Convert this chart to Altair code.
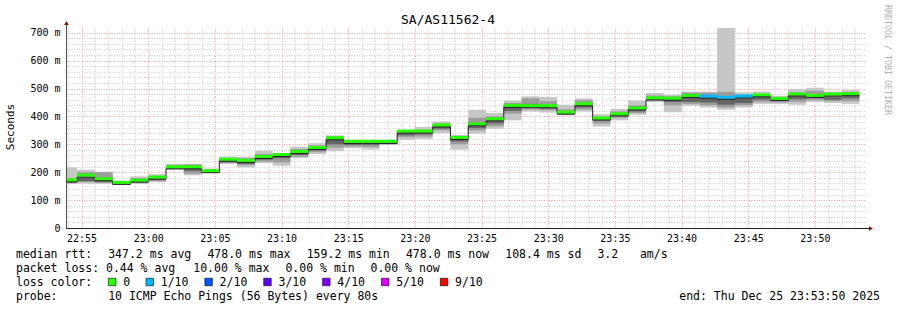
import altair as alt
import pandas as pd
import re

# ---------------- data ----------------
TITLE = "SA/AS11562-4"
RANGE_START = "22:53:50"
RANGE_END = "23:53:50"
FIRST_STEP = "22:53:20"
STEP_SECONDS = 80

median_ms = [169, 186, 173, 160, 168, 179, 216, 216, 202, 243,
             239, 253, 260, 271, 285, 320, 307, 307, 307, 344,
             344, 366, 321, 370, 388, 436, 435, 435, 412, 442,
             391, 406, 427, 463, 462, 472, 469, 465, 470, 474,
             461, 477, 472, 477, 478]

loss_tenths = [0, 0, 0, 0, 0, 0, 0, 0, 0, 0,
               0, 0, 0, 0, 0, 0, 0, 0, 0, 0,
               0, 0, 0, 0, 0, 0, 0, 0, 0, 0,
               0, 0, 0, 0, 0, 0, 1, 1, 1, 0,
               0, 0, 0, 0, 0]

smoke_min = [159, 159, 158, 155, 158, 165, 209, 189, 196, 229,
             217, 233, 223, 251, 265, 275, 286, 281, 298, 316,
             319, 340, 281, 338, 356, 386, 418, 414, 404, 418,
             364, 386, 406, 452, 415, 438, 432, 424, 432, 445,
             445, 442, 452, 448, 445]
smoke_max = [217, 209, 202, 169, 185, 193, 230, 230, 213, 256,
             255, 277, 268, 291, 304, 332, 316, 316, 316, 349,
             362, 382, 334, 424, 412, 457, 472, 470, 442, 464,
             408, 427, 457, 484, 478, 489, 489, 717, 486, 489,
             474, 498, 503, 489, 495]
smoke_mid_lo = [160, 165, 162, 157, 162, 168, 210, 195, 198, 233,
                225, 238, 235, 256, 272, 288, 292, 290, 300, 326,
                328, 350, 300, 350, 365, 410, 425, 422, 405, 425,
                375, 395, 412, 455, 440, 445, 440, 432, 440, 452,
                450, 452, 458, 455, 455]
smoke_mid_hi = [178, 200, 200, 164, 178, 186, 224, 228, 208, 250,
                250, 265, 262, 283, 296, 328, 312, 312, 312, 346,
                352, 375, 328, 395, 400, 448, 465, 455, 425, 458,
                400, 418, 440, 475, 472, 485, 485, 488, 476, 480,
                468, 485, 492, 482, 488]
smoke_in_lo = [162, 168, 165, 158, 164, 172, 213, 205, 200, 236,
               230, 245, 250, 262, 278, 300, 298, 298, 302, 332,
               336, 356, 310, 358, 375, 420, 430, 428, 408, 432,
               385, 400, 418, 458, 452, 452, 450, 442, 448, 460,
               455, 462, 465, 460, 465]
smoke_in_hi = [172, 182, 180, 162, 172, 182, 219, 220, 205, 246,
               242, 258, 262, 276, 290, 322, 308, 310, 309, 344,
               348, 370, 324, 378, 392, 440, 445, 440, 416, 448,
               395, 410, 432, 468, 466, 470, 470, 468, 468, 475,
               463, 478, 480, 472, 480]

loss_labels = ["0", "1/10", "2/10", "3/10", "4/10", "5/10", "9/10"]
loss_colors = ["#26ff00", "#00b8ff", "#0059ff", "#5e00ff", "#7e00ff", "#dd00ff", "#ff0000"]

legend_lines = [
    "median rtt:  347.2 ms avg  478.0 ms max  159.2 ms min  478.0 ms now  108.4 ms sd  3.2   am/s",
    "packet loss: 0.44 % avg  10.00 % max  0.00 % min  0.00 % now",
    "loss color:",
    "probe:       10 ICMP Echo Pings (56 Bytes) every 80s",
]
END_TEXT = "end: Thu Dec 25 23:53:50 2025"
Y_TITLE = "Seconds"
SIDE_TEXT = "RRDTOOL / TOBI OETIKER"

# ---------------- helpers ----------------
def secs(t):
    h, m, s = (int(v) for v in t.split(":"))
    return h * 3600 + m * 60 + s

x0, x1 = secs(RANGE_START), secs(RANGE_END)
n = len(median_ms)
starts = [secs(FIRST_STEP) + STEP_SECONDS * k for k in range(n)]
ends = [s + STEP_SECONDS for s in starts]

df = pd.DataFrame({
    "start": starts, "end": ends, "med": median_ms,
    "loss": [loss_labels[[0, 1, 2, 3, 4, 5, 9].index(v)] for v in loss_tenths],
    "lo": smoke_min, "hi": smoke_max,
    "mlo": smoke_mid_lo, "mhi": smoke_mid_hi,
    "ilo": smoke_in_lo, "ihi": smoke_in_hi,
})
line_df = pd.DataFrame({"t": starts + [ends[-1]], "med": median_ms + [median_ms[-1]]})

W, H = 800, 200
MONO = "DejaVu Sans Mono"
MAJOR = "#f0a0a0"
MINOR = "#cecece"

xscale = alt.Scale(domain=[x0, x1], nice=False, zero=False)
yscale = alt.Scale(domain=[0, 717], nice=False, zero=True)
minute_ticks = list(range(((x0 // 60) + 1) * 60, x1, 60))
xaxis = alt.Axis(
    values=minute_ticks,
    labelExpr="datum.value % 300 === 0 ? utcFormat(datum.value * 1000, '%H:%M') : ''",
    grid=True, gridDash=[1, 1.5], gridWidth=1,
    gridColor={"condition": {"test": "datum.value % 300 === 0", "value": MAJOR}, "value": MINOR},
    ticks=False, domain=False, labelPadding=5, labelFont=MONO, labelFontSize=10,
    labelColor="#000000", labelOverlap=False, labelFlush=False, title=None,
)
yaxis = alt.Axis(
    values=list(range(0, 701, 20)),
    labelExpr="datum.value % 100 === 0 ? (datum.value === 0 ? '0' : datum.value + ' m') : ''",
    grid=True, gridDash=[1, 1.5], gridWidth=1,
    gridColor={"condition": {"test": "datum.value % 100 === 0", "value": MAJOR}, "value": MINOR},
    ticks=False, domain=False, labelPadding=6, labelFont=MONO, labelFontSize=10,
    labelColor="#000000", labelOverlap=False, labelFlush=False, title=None,
)

def X(f):
    return alt.X(f, type="quantitative", scale=xscale, axis=xaxis, title=None)

def Y(f):
    return alt.Y(f, type="quantitative", scale=yscale, axis=yaxis, title=None)

base = alt.Chart(df)
layers = []
for lo, hi, col in [("lo", "hi", "#c6c6c6"), ("mlo", "mhi", "#9c9c9c"), ("ilo", "ihi", "#646464")]:
    layers.append(base.mark_rect(color=col, clip=True).encode(
        x=X("start"), x2="end", y=Y(lo), y2=hi))

layers.append(alt.Chart(line_df).mark_line(
    interpolate="step-after", color="#202020", strokeWidth=1, clip=True, yOffset=1
).encode(x=X("t"), y=Y("med")))

layers.append(base.mark_rule(strokeWidth=3, clip=True, yOffset=-1).encode(
    x=X("start"), x2="end", y=Y("med"),
    color=alt.Color("loss:N", scale=alt.Scale(domain=loss_labels, range=loss_colors), legend=None)))

one = pd.DataFrame({"a": [0]})
# axis lines and arrows
layers.append(alt.Chart(one).mark_rule(color="#505050", strokeWidth=1).encode(
    x=alt.value(0.5), y=alt.value(H), y2=alt.value(-4)))
layers.append(alt.Chart(one).mark_rule(color="#202020", strokeWidth=1).encode(
    x=alt.value(0), x2=alt.value(W + 3), y=alt.value(H + 0.5)))
layers.append(alt.Chart(one).mark_point(shape="triangle-up", filled=True, size=22,
                                        color="#8b1010", opacity=1).encode(
    x=alt.value(0.5), y=alt.value(-5)))
layers.append(alt.Chart(one).mark_point(shape="triangle-right", filled=True, size=22,
                                        color="#8b1010", opacity=1).encode(
    x=alt.value(W + 5), y=alt.value(H + 0.5)))

def txt(s, x, y, size=11.5, align="left", angle=0, color="#000000", baseline="alphabetic"):
    return alt.Chart(one).mark_text(
        text=s, font=MONO, fontSize=size, align=align, angle=angle,
        color=color, baseline=baseline
    ).encode(x=alt.value(x), y=alt.value(y))

LEFT = -66
layers.append(txt(TITLE, 382, -4, size=13, align="center"))
layers.append(txt(Y_TITLE, -55, 99, size=11, align="center", angle=270, baseline="middle"))
layers.append(txt(SIDE_TEXT, 821, -23, size=8.3, angle=90, color="#b0b0b0", baseline="middle"))

CHAR_W = 7.09
TEXT_X0 = LEFT + 16
line_y = [230, 244, 258, 272]
for i, line in enumerate(legend_lines):
    for m in re.finditer(r"\S+(?: \S+)*", line):
        layers.append(txt(m.group(0), TEXT_X0 + m.start() * CHAR_W, line_y[i]))

# loss colour legend boxes
sq_x = TEXT_X0 + 13 * CHAR_W
for lab, col in zip(loss_labels, loss_colors):
    layers.append(alt.Chart(one).mark_square(size=56, color=col, opacity=1, stroke="#000000",
                                             strokeWidth=0.6).encode(
        x=alt.value(sq_x + 4), y=alt.value(line_y[2] - 4)))
    lab_x = sq_x + 15
    layers.append(txt(lab, lab_x, line_y[2]))
    sq_x = lab_x + len(lab) * CHAR_W + 15.5

layers.append(txt(END_TEXT, 814, line_y[3], align="right"))

chart = alt.layer(*layers).properties(
    width=W, height=H,
    padding={"left": 66, "top": 28, "right": 31, "bottom": 82},
    autosize=alt.AutoSizeParams(type="none"),
    background="#ffffff",
).configure_view(stroke=None)

chart.save("out.html", embed_options={"renderer": "svg", "actions": False})
